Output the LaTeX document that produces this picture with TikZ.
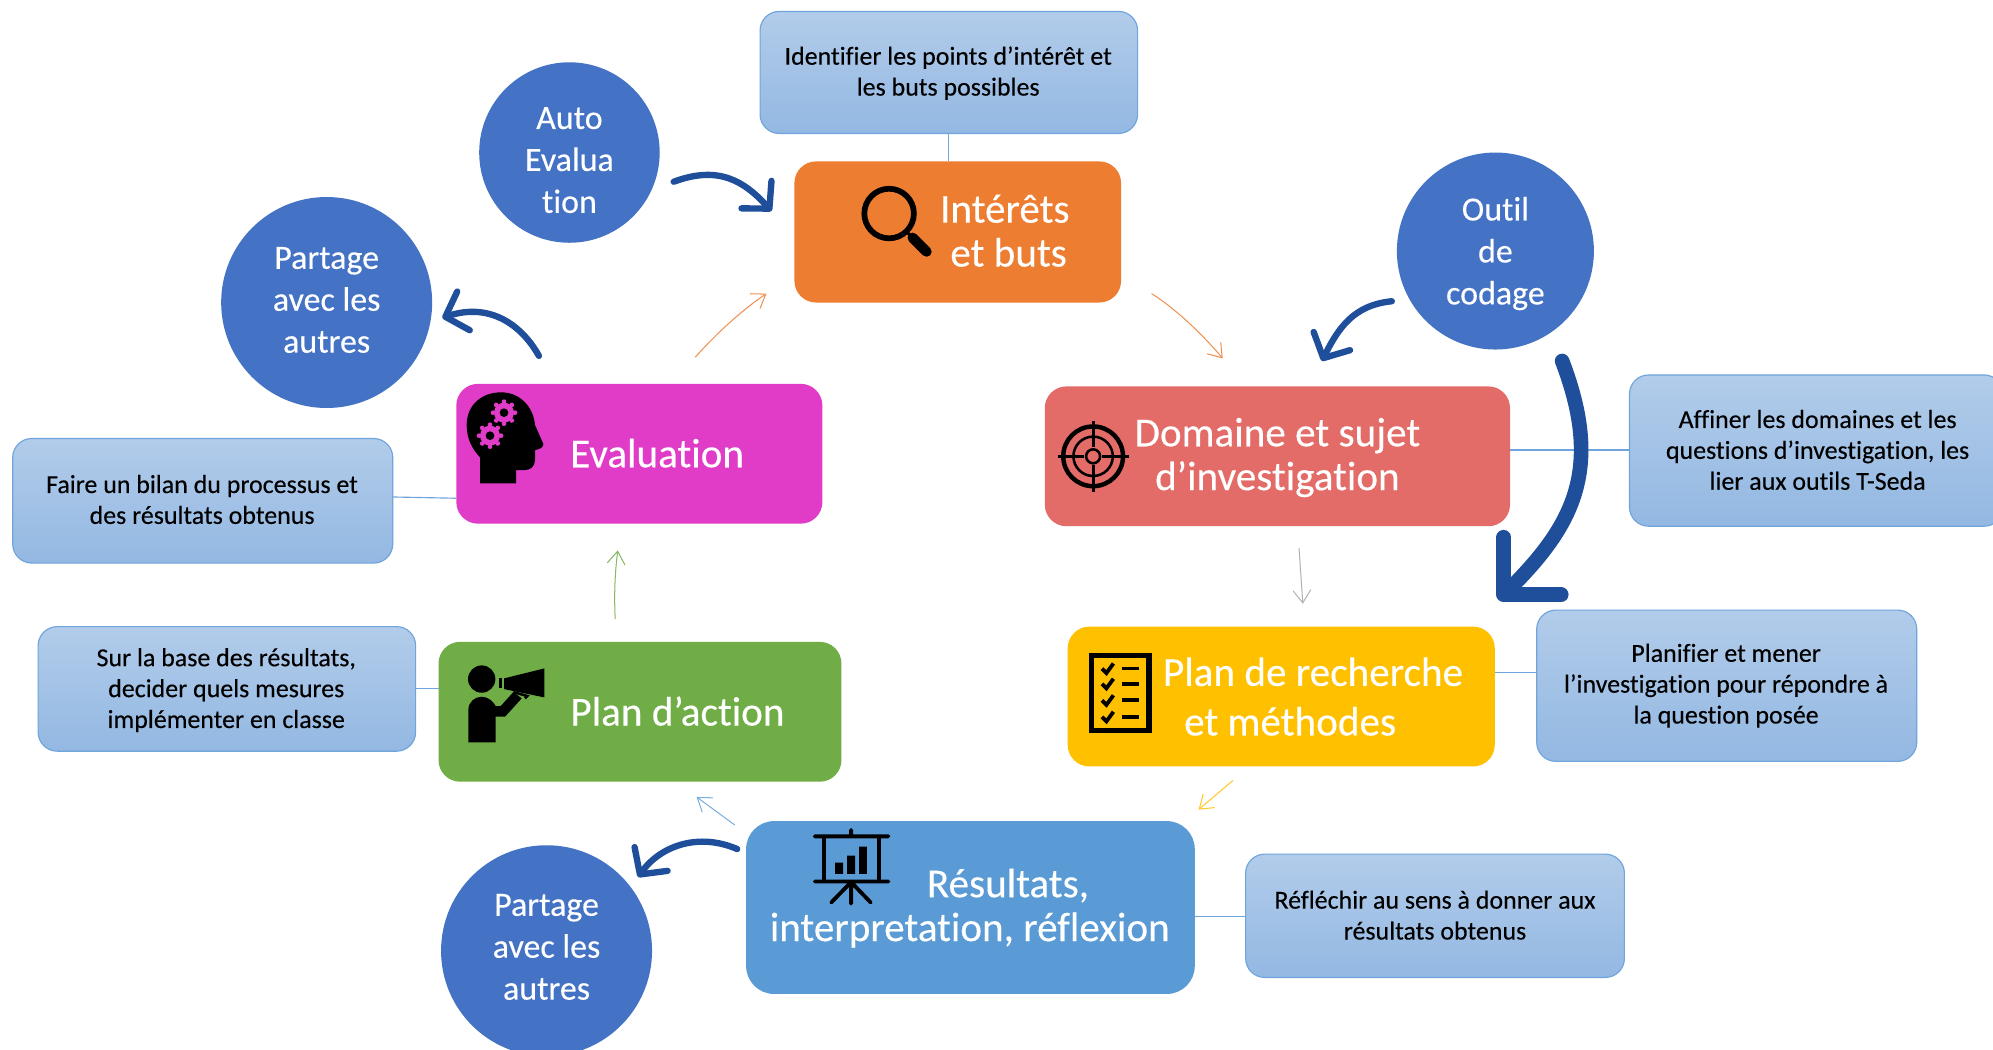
\documentclass[tikz,border=0pt]{standalone}
\usepackage{fontspec}
\setmainfont[Ligatures=NoCommon,FakeBold=0.25]{Carlito}
\usetikzlibrary{arrows.meta,calc}
\definecolor{cOrange}{HTML}{ED7D31}
\definecolor{cRed}{HTML}{E36B68}
\definecolor{cYellow}{HTML}{FFC000}
\definecolor{cBlue}{HTML}{5B9BD5}
\definecolor{cGreen}{HTML}{70AD47}
\definecolor{cMagenta}{HTML}{E03CC8}
\definecolor{cCircle}{HTML}{4472C4}
\definecolor{cArrow}{HTML}{1F4E9B}
\definecolor{cTop}{HTML}{B2CCEA}
\definecolor{cBot}{HTML}{93B8E2}
\definecolor{cEdge}{HTML}{6FA5DC}
\tikzset{
 every node/.style={inner sep=0pt,outer sep=0pt},
 mainbox/.style={rounded corners=17pt,text=white,align=center},
 calloutbox/.style={draw=cEdge,line width=0.9pt,rounded corners=15pt,top color=cTop,bottom color=cBot,shading angle=0},
 calltext/.style={text=black,align=center,font=\fontsize{20.4}{24.3}\selectfont},
 roundnode/.style={circle,fill=cCircle},
 roundtext/.style={text=white,align=center,font=\fontsize{26.7}{33}\selectfont},
 bigtext/.style={text=white,align=center,font=\fontsize{32.4}{34.5}\selectfont},
 linkline/.style={draw=cEdge,line width=0.9pt},
 curl/.style={draw=cArrow,line width=5pt,line cap=round,line join=round,-{Straight Barb[length=15pt,width=32pt,line width=5pt,round]}},
 curlbig/.style={draw=cArrow,line width=11.5pt,line cap=round,line join=round,-{Straight Barb[length=32pt,width=64pt,line width=11.5pt,round]}},
 thin arr/.style={line width=0.8pt,-{Straight Barb[length=10pt,width=14pt,line width=.8pt]}},
 ico/.style={fill=black,draw=none},
}
\newcommand{\geartool}[3]{%
 \foreach \a in {0,45,...,315}{\fill[#3] ($(#1,#2)+(\a:33)$) circle (7);}
 \fill[#3] (#1,#2) circle (30);
 \fill[black] (#1,#2) circle (13);
}
\begin{document}
\begin{tikzpicture}[x=1pt,y=-1pt]
\useasboundingbox (0,0) rectangle (1568,826);
\fill[white] (0,0) rectangle (1568,826);

% callouts
\node[calloutbox,minimum width=297pt,minimum height=96pt] (c1) at (746.5,57) {};
\node[calloutbox,minimum width=294pt,minimum height=119pt] (c2) at (1429,354.5) {};
\node[calloutbox,minimum width=299pt,minimum height=119pt] (c3) at (1358.5,539.5) {};
\node[calloutbox,minimum width=298pt,minimum height=97pt] (c4) at (1129,720.5) {};
\node[calloutbox,minimum width=297pt,minimum height=98pt] (c5) at (178.5,542) {};
\node[calloutbox,minimum width=299pt,minimum height=98pt] (c6) at (159.5,394) {};
\node[calltext] (t1) at (746,57.5) {Identifier les points d’intérêt et\\les buts possibles};
\node[calltext] (t2) at (1430,354) {Affiner les domaines et les\\questions d’investigation, les\\lier aux outils T-Seda};
\node[calltext] (t3) at (1358,539.5) {Planifier et mener\\l’investigation pour répondre à\\la question posée};
\node[calltext] (t4) at (1129,720) {Réfléchir au sens à donner aux\\résultats obtenus};
\node[calltext] (t5) at (178,543) {Sur la base des résultats,\\decider quels mesures\\implémenter en classe};
\node[calltext] (t6) at (159,393) {Faire un bilan du processus et\\des résultats obtenus};

% main boxes
\node[mainbox,fill=cOrange,minimum width=257pt,minimum height=111pt] (orange) at (753.5,182.5) {};
\node[mainbox,fill=cRed,minimum width=366pt,minimum height=110pt] (red) at (1005,359) {};
\node[mainbox,fill=cYellow,minimum width=336pt,minimum height=110pt] (yellow) at (1008,548) {};
\node[mainbox,fill=cBlue,minimum width=353pt,minimum height=136pt,rounded corners=22pt] (blue) at (763.5,714) {};
\node[mainbox,fill=cGreen,minimum width=317pt,minimum height=110pt] (green) at (503.5,560) {};
\node[mainbox,fill=cMagenta,minimum width=288pt,minimum height=110pt] (magenta) at (503,357) {};

\node[bigtext] (l1) at (790.5,181.5) {Intérêts\\\hspace*{6pt}et buts};
\node[bigtext] (l2) at (1005,360) {Domaine et sujet\\d’investigation};
\node[bigtext,font=\fontsize{32.4}{39}\selectfont] (l3) at (1033,548) {Plan de recherche\\et méthodes\hspace*{36pt}};
\node[bigtext] (l4) at (763,714.5) {\hspace*{60pt}Résultats,\\interpretation, réflexion};
\node[bigtext] (l5) at (533,559.5) {Plan d’action};
\node[bigtext] (l6) at (517,356.5) {Evaluation};

% circles
\node[roundnode,minimum size=142pt] (auto) at (448,120) {};
\node[roundnode,minimum size=166pt] (share1) at (257,238) {};
\node[roundnode,minimum size=155pt] (outil) at (1176.5,197.5) {};
\node[roundnode,minimum size=166pt] (share2) at (430,748) {};
\node[roundtext] (r1) at (448,126) {Auto\\Evalua\\tion};
\node[roundtext] (r2) at (257,236) {Partage\\avec les\\autres};
\node[roundtext] (r3) at (1176.5,199.5) {Outil\\de\\codage};
\node[roundtext] (r4) at (430,745) {Partage\\avec les\\autres};

% link lines
\draw[linkline] (c1.south) -- (c1.south |- orange.north);
\draw[linkline] ([yshift=5pt]red.east) -- ([yshift=5pt]red.east -| c2.west);
\draw[linkline] ([yshift=19pt]yellow.east) -- ([yshift=19pt]yellow.east -| c3.west);
\draw[linkline] ([yshift=-7pt]blue.east) -- ([yshift=-7pt]blue.east -| c4.west);
\draw[linkline] (c5.east) -- (c5.east -| green.west);
\draw[linkline] ([yshift=3pt]c6.east) -- (magenta.west |- 0,392);

% thin arrows
\coordinate (a1s) at (547,281); \coordinate (a1e) at (603,231);
\coordinate (a2s) at (906,231); \coordinate (a2e) at (962,282);
\coordinate (a3s) at (1022,431); \coordinate (a3e) at (1025,475);
\coordinate (a4s) at (970,614); \coordinate (a4e) at (943,637);
\coordinate (a5s) at (578,649); \coordinate (a5e) at (548,627);
\coordinate (a6s) at (484,487); \coordinate (a6e) at (486,433);
\draw[thin arr,draw=cOrange!85] (a1s) .. controls (565,261) and (585,243) .. (a1e);
\draw[thin arr,draw=cOrange!85] (a2s) .. controls (925,243) and (945,262) .. (a2e);
\draw[thin arr,draw=black!30] (a3s) -- (a3e);
\draw[thin arr,draw=cYellow!85] (a4s) -- (a4e);
\draw[thin arr,draw=cBlue!80] (a5s) -- (a5e);
\draw[thin arr,draw=cGreen!85] (a6s) .. controls (483,465) and (484,450) .. (a6e);

% thick curved arrows
\coordinate (b1s) at (530,143); \coordinate (b1e) at (607,166);
\coordinate (b2s) at (424,280); \coordinate (b2e) at (348,250);
\coordinate (b3s) at (1095,237); \coordinate (b3e) at (1040,284);
\coordinate (b4s) at (1229,284); \coordinate (b4e) at (1179,472);
\coordinate (b5s) at (580,668); \coordinate (b5e) at (502,690);
\draw[curl] (b1s) .. controls (565,130) and (585,142) .. (b1e);
\draw[curl] (b2s) .. controls (410,255) and (385,238) .. (b2e);
\draw[curl] (b3s) .. controls (1065,240) and (1053,258) .. (b3e);
\draw[curlbig] (b4s) .. controls (1262,370) and (1237,414) .. (b4e);
\draw[curl] (b5s) .. controls (550,655) and (520,665) .. (b5e);

% magnifier
\draw[black,line width=4.5pt] (699.5,168) circle (19.5);
\draw[black,line width=2.5pt] (713,182) -- (718,187);
\draw[black,line width=8pt,line cap=round] (718,187) -- (729,198);

% target
\begin{scope}[shift={(860,359)}]
 \draw[black,line width=3.5pt] (0,0) circle (23.5);
 \draw[black,line width=2pt] (0,0) circle (15.5);
 \draw[black,line width=2pt] (0,0) circle (5.5);
 \draw[black,line width=2.4pt] (-28,0) -- (-7,0) (7,0) -- (28,0) (0,-28) -- (0,-7) (0,7) -- (0,28);
\end{scope}

% checklist
\draw[black,line width=4pt] (859,516) rectangle (904,574.5);
\foreach \y in {526,538,551,564}{
 \draw[black,line width=3pt] (867,\y) -- (870.5,\y+3.5) -- (876,\y-4);
 \draw[black,line width=3pt] (883,\y) -- (896,\y);
}

% presentation
\draw[black,line width=3pt,line cap=round] (641,658) -- (699,658) (641,693.5) -- (699,693.5) (669.6,653) -- (669.6,658) (669.6,694) -- (669.6,711) (669.6,694) -- (654,710) (669.6,694) -- (685,710);
\draw[black,line width=3pt] (648.5,658) -- (648.5,693.5) (691.5,658) -- (691.5,693.5);
\fill[black] (657,678.7) rectangle (663.4,687.6) (666.4,673.2) rectangle (672.7,687.6) (676,666) rectangle (682,687.6);

% head with gears
\begin{scope}[shift={(338.3,291.1)},scale=0.2623]
 \fill[ico] (150,340) -- (150,262) .. controls (125,235) and (110,205) .. (110,165) .. controls (110,105) and (155,67) .. (213,67) .. controls (270,67) and (310,110) .. (315,165) -- (340,222) .. controls (340,235) and (325,238) .. (315,240) -- (315,270) .. controls (315,290) and (300,300) .. (285,300) -- (258,300) -- (258,340) -- cycle;
 \geartool{222}{128}{cMagenta}
 \geartool{180}{197}{cMagenta}
\end{scope}

% speaker with megaphone
\begin{scope}[shift={(338.3,291.1)},scale=0.2623]
 \fill[ico] (155,927) circle (41);
 \fill[ico] (115,1117) -- (115,1020) .. controls (115,995) and (135,980) .. (155,980) .. controls (175,980) and (190,995) .. (197,1008) -- (212,1008) -- (250,966) -- (275,985) -- (225,1040) -- (197,1040) -- (197,1117) -- cycle;
 \fill[ico] (222,925) -- (343,895) -- (343,982) -- (222,957) -- cycle;
 \fill[ico] (206,925) rectangle (217,955);
 \draw[black,line width=2pt] (250,966) -- (292,978) -- (285,985);
\end{scope}
\end{tikzpicture}
\end{document}
